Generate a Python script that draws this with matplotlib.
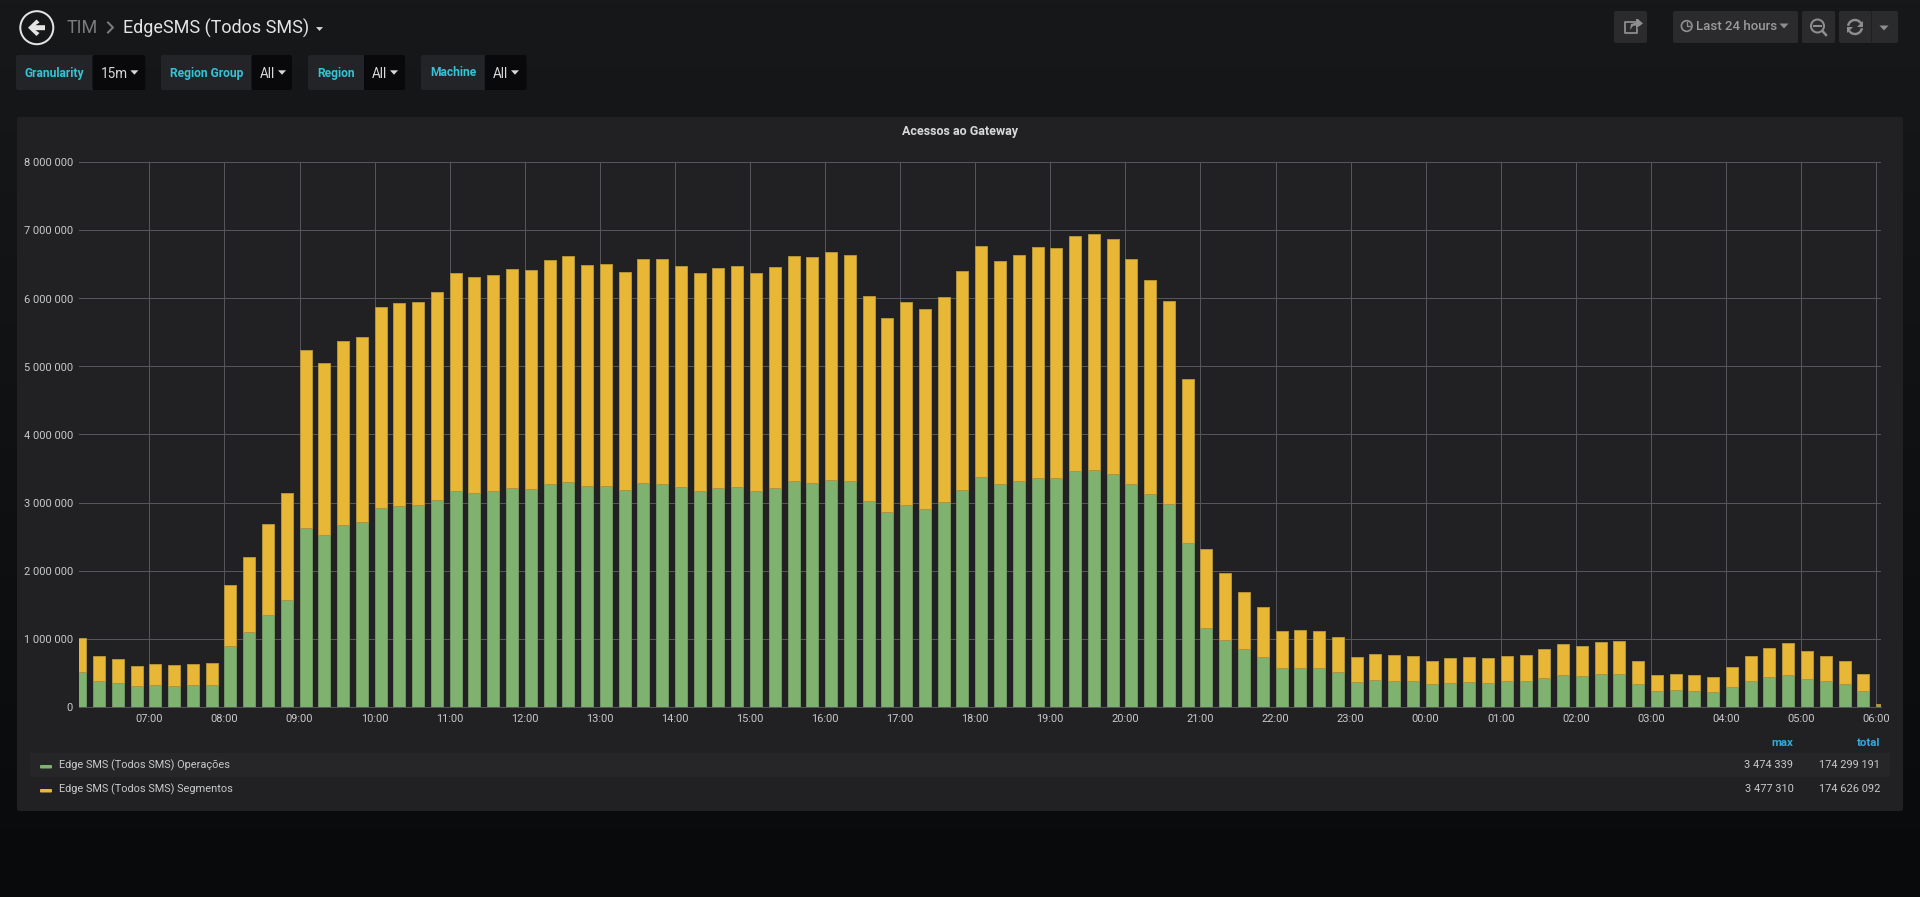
import numpy as np
import matplotlib
matplotlib.use("Agg")
import matplotlib.pyplot as plt
from matplotlib.patches import Rectangle, FancyBboxPatch, Circle, Polygon, Arc

plt.rcParams['font.family'] = ['Roboto', 'DejaVu Sans']
W, H = 1920, 897
px = 0.72  # one pixel in points at dpi 100

# 15 minute buckets, 06:00 to 06:00 next day
hours = [6 + i * 0.25 for i in range(97)]

operacoes = [505000, 373000, 343000, 299000, 314000, 299000, 314000, 319000,
             887000, 1093000, 1343000, 1564000, 2618000, 2520000, 2676000, 2710000,
             2926000, 2946000, 2960000, 3030000, 3167000, 3137000, 3162000, 3211000,
             3200000, 3279000, 3299000, 3240000, 3250000, 3191000, 3289000, 3279000,
             3235000, 3176000, 3220000, 3235000, 3176000, 3220000, 3309000, 3294000,
             3338000, 3309000, 3015000, 2853000, 2970000, 2911000, 3005000, 3191000,
             3382000, 3270000, 3309000, 3367000, 3367000, 3456000, 3474339, 3426000,
             3279000, 3132000, 2980000, 2410000, 1157000, 985000, 843000, 735000,
             559000, 569000, 559000, 510000, 363000, 392000, 377000, 373000,
             333000, 348000, 363000, 348000, 368000, 377000, 422000, 456000,
             451000, 475000, 480000, 333000, 230000, 245000, 230000, 216000,
             289000, 377000, 436000, 466000, 407000, 377000, 338000, 235000,
             20000]

totals = [1010000, 745000, 696000, 598000, 627000, 608000, 623000, 647000,
          1784000, 2196000, 2681000, 3137000, 5250000, 5054000, 5368000, 5441000,
          5873000, 5931000, 5946000, 6093000, 6368000, 6309000, 6343000, 6441000,
          6417000, 6569000, 6618000, 6490000, 6505000, 6397000, 6588000, 6574000,
          6485000, 6373000, 6446000, 6475000, 6373000, 6466000, 6627000, 6608000,
          6691000, 6637000, 6039000, 5720000, 5946000, 5843000, 6029000, 6402000,
          6770000, 6554000, 6637000, 6750000, 6740000, 6917000, 6951649, 6868000,
          6578000, 6265000, 5970000, 4813000, 2314000, 1960000, 1681000, 1470000,
          1113000, 1132000, 1113000, 1015000, 725000, 775000, 760000, 745000,
          672000, 706000, 730000, 706000, 740000, 760000, 848000, 912000,
          892000, 951000, 970000, 672000, 466000, 485000, 466000, 436000,
          578000, 745000, 863000, 936000, 819000, 750000, 676000, 475000,
          44000]

segmentos = [t - o for t, o in zip(totals, operacoes)]

y_ticks = [0, 1000000, 2000000, 3000000, 4000000, 5000000, 6000000, 7000000, 8000000]
x_ticks = list(range(7, 31))
x_labels = ["%02d:00" % (h % 24) for h in x_ticks]

legend_names = ["Edge SMS (Todos SMS) Operações", "Edge SMS (Todos SMS) Segmentos"]
legend_max = ["3 474 339", "3 477 310"]
legend_total = ["174 299 191", "174 626 092"]

GREEN, GREEN_E = "#7fb26f", "#6f9462"
YELLOW, YELLOW_E = "#e8b735", "#b0923a"
TXT = "#c8c9ca"
CYAN = "#33c4d8"
BLUE = "#33a8dc"
BTN = "#2b2b2e"
ICON = "#8e8e8e"

fig = plt.figure(figsize=(W / 100, H / 100), dpi=100)

# page in pixel coordinates, y going down
bg = fig.add_axes([0, 0, 1, 1])
bg.set_xlim(0, W)
bg.set_ylim(H, 0)
bg.axis("off")
shade = np.linspace(0, 1, 256).reshape(-1, 1, 1)
top_c = np.array([0x17, 0x18, 0x1a]) / 255
bot_c = np.array([0x09, 0x0a, 0x0c]) / 255
bg.imshow(top_c + (bot_c - top_c) * shade, extent=[0, W, H, 0], aspect="auto", zorder=0)
bg.set_xlim(0, W)
bg.set_ylim(H, 0)


def box(x0, y0, x1, y1, color, z=1):
    bg.add_patch(FancyBboxPatch((x0 + 2, y0 + 2), x1 - x0 - 4, y1 - y0 - 4,
                                boxstyle="round,pad=2,rounding_size=2",
                                fc=color, ec="none", zorder=z))


def caret(x, y, color, s=4.5):
    bg.add_patch(Polygon([(x - s, y - s * 0.55), (x + s, y - s * 0.55), (x, y + s * 0.55)],
                         fc=color, ec="none", zorder=4))


def label(x, y, s, size, color, ha="left", **kw):
    bg.text(x, y, s, fontsize=size * px, color=color, ha=ha, va="center", zorder=5, **kw)


# header
bg.add_patch(Circle((36.8, 27.7), 16.5, fc="none", ec="#e4e4e4", lw=2 * px, zorder=3))
bg.add_patch(Polygon([(28, 27.7), (36.5, 19.5), (39.5, 22.5), (35.5, 25.2), (45, 25.2),
                      (45, 30.2), (35.5, 30.2), (39.5, 33), (36.5, 36)],
                     fc="#e4e4e4", ec="none", zorder=3))
label(67, 28, "TIM", 18, "#7a7b7c")
bg.plot([108, 113, 108], [22.5, 27.5, 32.5], color="#7a7b7c", lw=2 * px, zorder=3)
label(123, 28, "EdgeSMS (Todos SMS)", 18, "#e3e4e5")
caret(319.5, 29, "#d8d9da", 3.5)

# template variable dropdowns
variables = [("Granularity", "15m", 16, 92.5, 145.5, 101, 134.4),
             ("Region Group", "All", 161, 251.5, 292, 259.4, 282),
             ("Region", "All", 308, 364, 405, 372, 394),
             ("Machine", "All", 421, 484.8, 526.7, 492.7, 515)]
for name, val, x0, xm, x1, xv, xc in variables:
    box(x0, 55, x1, 90, "#232427", 2)
    box(xm, 55, x1, 90, "#09090b", 3)
    bg.add_patch(Rectangle((xm, 55), 4, 35, fc="#09090b", ec="none", zorder=3))
    label((x0 + xm) / 2, 73, name, 12, CYAN, ha="center", fontweight="bold")
    label(xv, 74, val, 13.5, "#d8d9da")
    caret(xc, 72.5, "#d8d9da", 4)

# toolbar on the right
box(1614, 11, 1647, 43, BTN)
box(1673, 11, 1798, 43, BTN)
box(1802, 11, 1835, 43, BTN)
box(1839, 11, 1898, 43, BTN)
bg.plot([1870.7, 1870.7], [11, 43], color="#1f1f22", lw=1 * px, zorder=3)
label(1696, 27, "Last 24 hours", 13.2, "#9a9a9a", fontweight="medium")
caret(1784, 26, ICON, 4.5)
caret(1884, 28, ICON, 4.5)
# clock
bg.add_patch(Circle((1686.7, 26), 5.3, fc="none", ec=ICON, lw=1.7 * px, zorder=4))
bg.plot([1686.7, 1686.7, 1690], [22.5, 26.5, 26.5], color=ICON, lw=1.3 * px, zorder=4)
# share
bg.plot([1635, 1625, 1625, 1637, 1637], [22, 22, 33, 33, 29], color=ICON, lw=1.8 * px, zorder=4)
bg.add_patch(Polygon([(1630, 30), (1631, 24), (1636, 22.5), (1636, 19), (1638, 19), (1638, 19),
                      (1643, 23.5), (1636, 28.5), (1636, 25.5), (1633, 26)],
                     fc=ICON, ec="none", zorder=4))
# zoom out
bg.add_patch(Circle((1817.5, 26), 6.5, fc="none", ec=ICON, lw=2 * px, zorder=4))
bg.plot([1814, 1821], [26, 26], color=ICON, lw=2 * px, zorder=4)
bg.plot([1822.5, 1826], [31, 35], color=ICON, lw=2.5 * px, zorder=4)
# refresh
bg.add_patch(Arc((1855, 27), 14, 14, theta1=190, theta2=330, ec=ICON, lw=2.4 * px, zorder=4))
bg.add_patch(Arc((1855, 27), 14, 14, theta1=10, theta2=150, ec=ICON, lw=2.4 * px, zorder=4))
bg.add_patch(Polygon([(1863, 21), (1863, 27), (1857, 27)], fc=ICON, ec="none", zorder=4))
bg.add_patch(Polygon([(1847, 33), (1847, 27), (1853, 27)], fc=ICON, ec="none", zorder=4))

# panel
box(17, 117, 1903, 811, "#212124", 1)
label(960, 131, "Acessos ao Gateway", 12.5, "#d8d9da", ha="center", fontweight="bold")

# legend rows
bg.add_patch(Rectangle((30, 753), 1860, 24, fc="#262629", ec="none", zorder=2))
for i, name in enumerate(legend_names):
    y = 765.5 + i * 24
    bg.add_patch(FancyBboxPatch((41, y + 0.5), 10, 1.5, boxstyle="round,pad=1,rounding_size=1",
                                fc=[GREEN, YELLOW][i], ec="none", zorder=3))
    label(59, y, name, 11, TXT)
    label(1793.5, y, legend_max[i], 11, TXT, ha="right")
    label(1880, y, legend_total[i], 11, TXT, ha="right")
label(1793.5, 743, "max", 11.5, BLUE, ha="right", fontweight="bold")
label(1880, 743, "total", 11.5, BLUE, ha="right", fontweight="bold")

# chart
ax = fig.add_axes([79 / W, 1 - 706.5 / H, (1880.8 - 79) / W, (706.5 - 162.5) / H])
ax.patch.set_alpha(0)
bar_w = 12.0 / 75.08
ax.bar(hours, operacoes, width=bar_w, align="edge", color=GREEN, edgecolor=GREEN_E,
       linewidth=1 * px, zorder=3)
ax.bar(hours, segmentos, width=bar_w, align="edge", bottom=operacoes, color=YELLOW,
       edgecolor=YELLOW_E, linewidth=1 * px, zorder=3)
ax.set_xlim(6.0625, 30.0625)
ax.set_ylim(0, 8000000)
ax.set_xticks(x_ticks)
ax.set_xticklabels(x_labels)
ax.set_yticks(y_ticks)
ax.set_yticklabels([("%d" % v) if v == 0 else "%d 000 000" % (v / 1000000) for v in y_ticks])
ax.tick_params(length=0, labelsize=11 * px, labelcolor=TXT)
ax.tick_params(axis="x", pad=5.7)
ax.tick_params(axis="y", pad=4.3)
ax.grid(True, color="#56565a", linewidth=1 * px)
ax.set_axisbelow(True)
for s in ax.spines:
    ax.spines[s].set_visible(False)
ax.spines["bottom"].set_visible(True)
ax.spines["bottom"].set_color("#56565a")
ax.spines["bottom"].set_linewidth(1 * px)
ax.spines["bottom"].set_zorder(4)

fig.savefig("out.png", dpi=100)
